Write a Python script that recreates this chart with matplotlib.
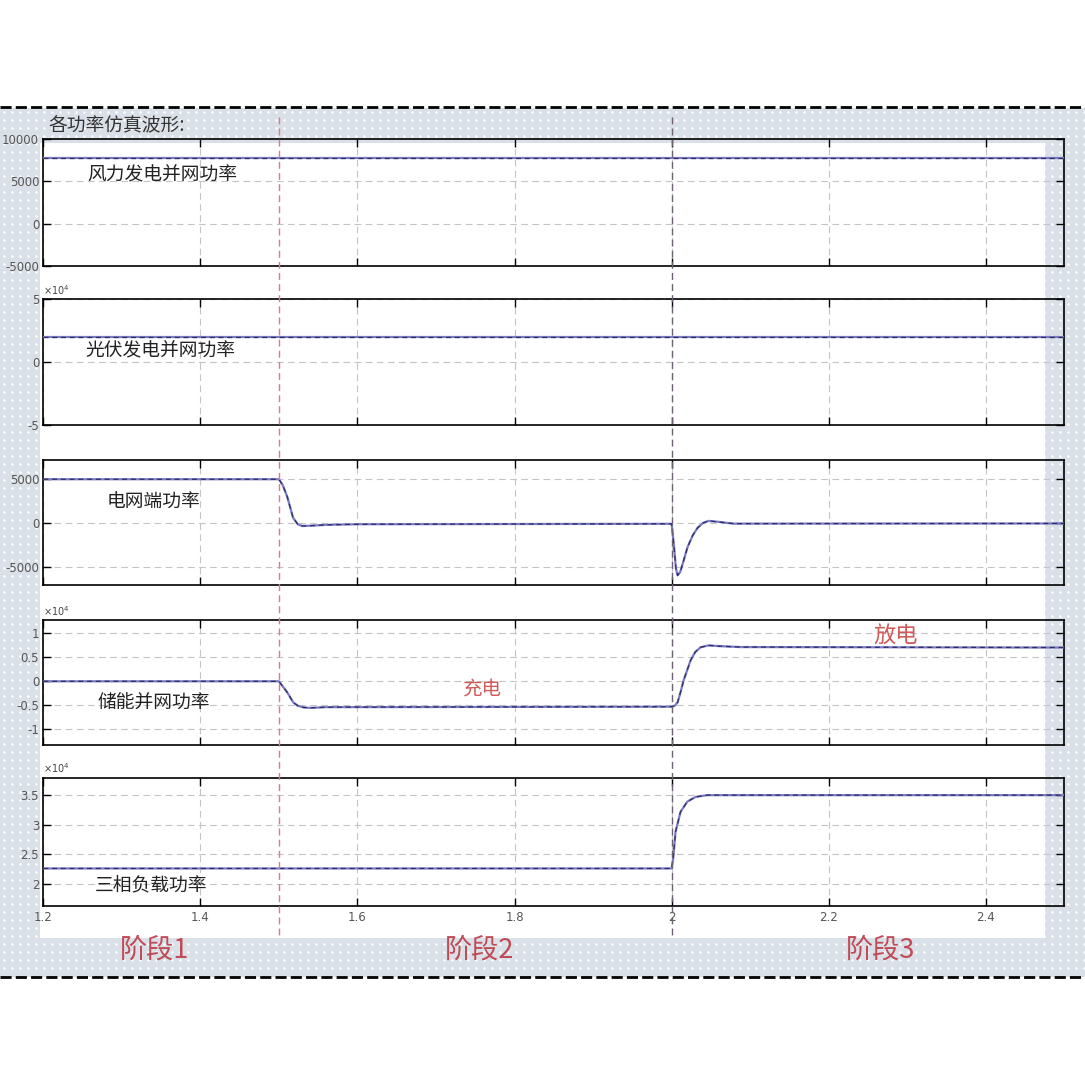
import matplotlib
matplotlib.use("Agg")
import matplotlib.pyplot as plt
import matplotlib.transforms as mtransforms
from matplotlib.lines import Line2D
from matplotlib.patches import Rectangle
from matplotlib.ticker import FuncFormatter
import numpy as np

plt.rcParams["font.family"] = ["DejaVu Sans", "Noto Sans CJK SC"]
plt.rcParams["axes.unicode_minus"] = False
CJK = ["Noto Sans CJK SC", "DejaVu Sans"]

# ---- data ----
t_wind = [1.2, 2.5]
p_wind = [7800, 7800]

t_pv = [1.2, 2.5]
p_pv = [20000, 20000]

t_grid = [1.2, 1.5, 1.505, 1.5106, 1.518, 1.524, 1.5296, 1.54, 1.56, 1.6, 2.0,
          2.003, 2.0055, 2.0076, 2.011, 2.015, 2.0203, 2.027, 2.033, 2.04, 2.047,
          2.06, 2.0788, 2.5]
p_grid = [5000, 5000, 4300, 3000, 600, -150, -350, -320, -220, -150, -100,
          -2600, -5200, -6000, -5600, -4400, -2760, -1400, -570, 0, 230,
          120, -80, -60]

t_ess = [1.2, 1.5, 1.505, 1.5106, 1.5182, 1.524, 1.531, 1.54, 1.56, 2.0,
         2.004, 2.0076, 2.0115, 2.0153, 2.02, 2.0242, 2.03, 2.0369, 2.047,
         2.06, 2.0878, 2.5]
p_ess = [0, 0, -1100, -2300, -4400, -5100, -5450, -5550, -5400, -5300,
         -5100, -4400, -2200, 200, 2400, 4400, 6100, 7100, 7500,
         7350, 7150, 7050]

t_load = [1.2, 2.0, 2.0021, 2.005, 2.0114, 2.02, 2.0305, 2.0454, 2.5]
p_load = [22600, 22600, 24400, 28800, 32200, 33900, 34700, 35000, 35000]

panel_names = ["风力发电并网功率", "光伏发电并网功率", "电网端功率", "储能并网功率", "三相负载功率"]
name_pos = [(1.351, 5800), (1.349, 9000), (1.34, 2400), (1.341, -4500), (1.337, 19900)]
ylims = [(-5000, 10000), (-50000, 50000), (-7100, 7200), (-13300, 12800), (16300, 37900)]
yticks = [[-5000, 0, 5000, 10000], [-50000, 0, 50000], [-5000, 0, 5000],
          [-10000, -5000, 0, 5000, 10000], [20000, 25000, 30000, 35000]]
sci = [False, True, False, True, True]
xticks = [1.2, 1.4, 1.6, 1.8, 2.0, 2.2, 2.4]
xticklabels = ["1.2", "1.4", "1.6", "1.8", "2", "2.2", "2.4"]

stage_bounds = [1.5, 2.0]
stage_labels = ["阶段1", "阶段2", "阶段3"]
stage_x = [1.342, 1.756, 2.266]
notes = [("充电", 3, 1.759, -1900, 14), ("放电", 3, 2.285, 9400, 16)]

series = [(t_wind, p_wind), (t_pv, p_pv), (t_grid, p_grid), (t_ess, p_ess), (t_load, p_load)]

# ---- figure ----
W = 1085.0
fig = plt.figure(figsize=(10.85, 10.85), dpi=100)

# dotted screenshot background
bg = fig.add_axes([0, 0, 1, 1], zorder=-5)
bg.set_xlim(0, W)
bg.set_ylim(W, 0)
bg.axis("off")
bg.add_patch(Rectangle((0, 108), W, 869, color="#d9e0e7", lw=0))
gx, gy = np.meshgrid(np.arange(4, W, 8), np.arange(112, 976, 8))
bg.scatter(gx.ravel(), gy.ravel(), s=3.5, color="white", lw=0)
bg.add_patch(Rectangle((40, 143), 1005, 795, color="white", lw=0))
for yy in (107, 977):
    bg.plot([0, W], [yy, yy], color="black", lw=2, ls=(0, (4, 1.5)))

panels_px = [(139.3, 265.7), (299.3, 425), (460, 585), (620, 745), (778, 905.7)]
left = 43.3 / W
width = (1064.3 - 43.3) / W

axes = []
for i, (top, bot) in enumerate(panels_px):
    ax = fig.add_axes([left, 1 - bot / W, width, (bot - top) / W])
    ax.set_facecolor("none")
    t, p = series[i]
    ax.plot(t, p, color="#7a7ac8", lw=1.6, solid_capstyle="butt", zorder=3)
    ax.plot(t, p, color="#2e2e5e", lw=0.9, ls=(0, (4, 3)), zorder=4)
    ax.set_xlim(1.2, 2.5)
    ax.set_ylim(*ylims[i])
    ax.set_yticks(yticks[i])
    ax.set_xticks(xticks)
    if sci[i]:
        ax.yaxis.set_major_formatter(FuncFormatter(lambda v, pos: f"{v / 1e4:g}"))
        ax.text(0.0, 1.02, r"$\times10^4$", transform=ax.transAxes, fontsize=7,
                color="#444444", ha="left", va="bottom")
    else:
        ax.yaxis.set_major_formatter(FuncFormatter(lambda v, pos: f"{v:g}"))
    if i == 4:
        ax.set_xticklabels(xticklabels)
    else:
        ax.set_xticklabels([])
    ax.tick_params(direction="in", length=6, width=1, top=True, right=True,
                   labelsize=8.5, labelcolor="#555555", pad=3)
    ax.tick_params(axis="x", pad=4)
    ax.grid(True, color="#c4c4c4", lw=0.8, ls=(0, (6, 4)))
    for sp in ax.spines.values():
        sp.set_color("black")
        sp.set_linewidth(1.2)
    x0, y0 = name_pos[i]
    ax.text(x0, y0, panel_names[i], family=CJK, fontsize=13.5, color="#222222",
            ha="center", va="center", zorder=5)
    axes.append(ax)

for text, idx, x0, y0, fs in notes:
    axes[idx].text(x0, y0, text, family=CJK, fontsize=fs, color="#d05a5a",
                   ha="center", va="center", zorder=5)

# stage boundary lines spanning all panels
inv = fig.transFigure.inverted()
bound_colors = ["#e07a88", "#6e6272"]
for xb, col in zip(stage_bounds, bound_colors):
    xf = inv.transform(axes[0].transData.transform((xb, 0)))[0]
    fig.add_artist(Line2D([xf, xf], [1 - 935 / W, 1 - 113 / W], transform=fig.transFigure,
                          color=col, lw=1.0, ls=(0, (5, 3)), zorder=6))

blend = mtransforms.blended_transform_factory(axes[4].transData, fig.transFigure)
for lab, xs in zip(stage_labels, stage_x):
    fig.text(xs, 1 - 950 / W, lab, transform=blend, family=CJK, fontsize=19.5,
             color="#c04a55", ha="center", va="center")

fig.text(48 / W, 1 - 125 / W, "各功率仿真波形:", family=CJK, fontsize=13.5,
         color="#333333", ha="left", va="center")

fig.savefig("out.png", dpi=100)
